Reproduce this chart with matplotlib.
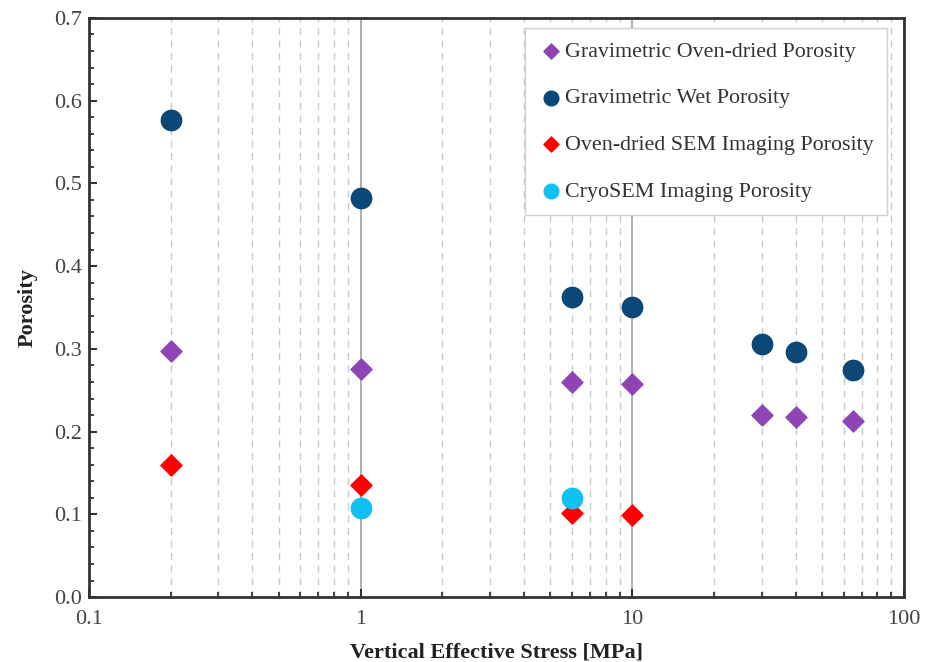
import numpy as np
import matplotlib
matplotlib.use("Agg")
import matplotlib.pyplot as plt
from matplotlib.ticker import LogLocator, MultipleLocator, FixedLocator, FixedFormatter

plt.rcParams['font.family'] = ['Liberation Serif', 'DejaVu Serif']

# Porosity against vertical effective stress [MPa]
stress_grav = [0.2, 1, 6, 10, 30, 40, 65]
oven_dried = [0.297, 0.276, 0.260, 0.257, 0.220, 0.218, 0.213]
wet = [0.576, 0.482, 0.363, 0.351, 0.306, 0.296, 0.275]

stress_sem = [0.2, 1, 6, 10]
sem_oven = [0.160, 0.135, 0.102, 0.099]

stress_cryo = [1, 6]
cryo_sem = [0.108, 0.120]

fig, ax = plt.subplots(figsize=(9.26, 6.62), dpi=100)
fig.subplots_adjust(left=0.096, right=0.976, top=0.973, bottom=0.098)

ax.scatter(stress_grav, oven_dried, marker='D', s=115, color='#8E44B5', zorder=3,
           label='Gravimetric Oven-dried Porosity')
ax.scatter(stress_grav, wet, marker='o', s=215, color='#0B4878', zorder=3,
           label='Gravimetric Wet Porosity')
ax.scatter(stress_sem, sem_oven, marker='D', s=115, color='#FF0000', zorder=3,
           label='Oven-dried SEM Imaging Porosity')
ax.scatter(stress_cryo, cryo_sem, marker='o', s=215, color='#10C0F0', zorder=3,
           label='CryoSEM Imaging Porosity')

ax.set_xscale('log')
ax.set_xlim(0.1, 100)
ax.set_ylim(0, 0.7)

ax.xaxis.set_major_locator(FixedLocator([0.1, 1, 10, 100]))
ax.xaxis.set_major_formatter(FixedFormatter(['0.1', '1', '10', '100']))
ax.xaxis.set_minor_locator(LogLocator(base=10, subs=np.arange(2, 10), numticks=20))
ax.xaxis.set_minor_formatter(FixedFormatter([]))
ax.yaxis.set_major_locator(MultipleLocator(0.1))
ax.yaxis.set_minor_locator(MultipleLocator(0.02))
ax.yaxis.set_major_formatter(plt.FuncFormatter(lambda v, p: f'{v:.1f}'))

# vertical grid only: solid at decades, dashed in between
ax.grid(True, axis='x', which='major', color='#A8A8A8', lw=1.3, ls='-', zorder=0)
ax.grid(True, axis='x', which='minor', color='#C8C8C8', lw=1.0, ls=(0, (5, 4)), zorder=0)

ax.tick_params(axis='both', which='major', direction='in', length=6, width=1.5,
               labelsize=16, colors='#333333', labelcolor='#444444')
ax.tick_params(axis='x', which='major', pad=9)
ax.tick_params(axis='y', which='major', pad=5)
ax.tick_params(axis='both', which='minor', direction='in', length=3.5, width=1.3,
               colors='#333333')
ax.tick_params(top=False, right=False, which='both')

for sp in ax.spines.values():
    sp.set_linewidth(2)
    sp.set_color('#333333')

ax.set_xlabel('Vertical Effective Stress [MPa]', fontsize=16, fontweight='bold',
              color='#222222', labelpad=10)
ax.set_ylabel('Porosity', fontsize=16, fontweight='bold', color='#222222', labelpad=12)

leg = ax.legend(loc='upper right', bbox_to_anchor=(0.985, 0.99), fontsize=15.8,
                frameon=True, fancybox=False, edgecolor='#D0D0D0', framealpha=1,
                handlelength=1.2, handletextpad=0.05, labelspacing=1.2, borderpad=0.6,
                markerscale=0.72, borderaxespad=0.2)
leg.get_frame().set_linewidth(1.0)
for t in leg.get_texts():
    t.set_color('#333333')

fig.savefig('out.png', dpi=100)
